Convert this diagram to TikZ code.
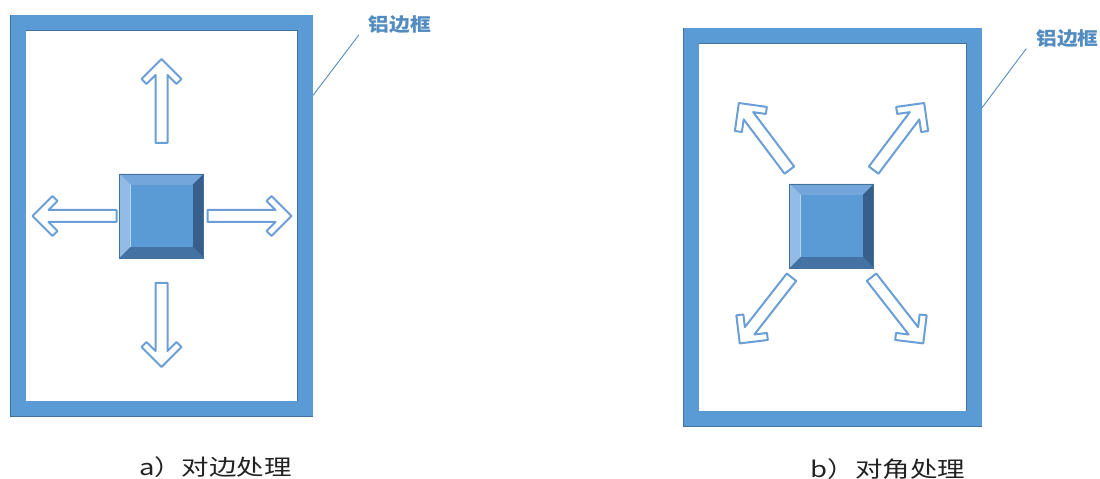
\documentclass[tikz,border=0pt]{standalone}
\usepackage{fontspec}
\usepackage{tikz}
\usetikzlibrary{calc}
\newfontfamily\cjkcap[FakeStretch=1.25]{Noto Sans CJK SC}
\newfontfamily\cjklbl[FakeStretch=1.12]{Noto Sans CJK SC}
\definecolor{frameblue}{HTML}{5B9BD5}
\definecolor{edgeblue}{HTML}{41719C}
\definecolor{toplight}{HTML}{74A5DB}
\definecolor{leftlight}{HTML}{92BBE5}
\definecolor{rightdark}{HTML}{365F8B}
\definecolor{bottomdark}{HTML}{4372A3}
\definecolor{arrowblue}{HTML}{6A9ED6}
\definecolor{captiongray}{HTML}{222222}
\tikzset{
    alframe/.style={draw=edgeblue, line width=.6pt, double=frameblue, double distance=15pt, outer sep=8pt},
    leader/.style={draw=frameblue!90!black, line width=.9pt},
    lbl/.style={font=\cjklbl\bfseries\fontsize{18.5}{20}\selectfont, text=frameblue!90!black, inner xsep=10pt, inner ysep=1pt},
    captiontext/.style={font=\cjkcap\fontsize{22}{24}\selectfont, text=captiongray},
    blockarrow/.pic={
        \draw[arrowblue, line width=2pt, fill=white, line join=round] (0,-6) -- (68,-6) -- (59,-15) -- (64,-20) -- (84,0)
            -- (64,20) -- (59,15) -- (68,6) -- (0,6) -- cycle;
    },
    bevel/.pic={
        \fill[toplight] (-42,42) -- (42,42) -- (31,31) -- (-31,31) -- cycle;
        \fill[leftlight] (-42,42) -- (-31,31) -- (-31,-31) -- (-42,-42) -- cycle;
        \fill[rightdark] (42,42) -- (42,-42) -- (31,-31) -- (31,31) -- cycle;
        \fill[bottomdark] (-42,-42) -- (-31,-31) -- (31,-31) -- (42,-42) -- cycle;
        \fill[frameblue] (-31,-31) rectangle (31,31);
        \draw[edgeblue, line width=.5pt] (-42,-42) rectangle (42,42);
    }
}
\begin{document}
\begin{tikzpicture}[x=1pt, y=1pt]
    \useasboundingbox (0,0) rectangle (1100,479);
    \node[alframe, minimum width=287pt, minimum height=386pt] (fra) at (161.5,263) {};
    \node[alframe, minimum width=283pt, minimum height=383pt] (frb) at (832.5,251.5) {};
    \coordinate (ca) at (161.5,263);
    \coordinate (cb) at (831.5,253);
    \pic at (ca) {bevel};
    \pic at (cb) {bevel};
    \foreach \ang/\dist in {90/73, -90/67, 180/45, 0/46}
        \pic[rotate=\ang] at ($(ca)+(\ang:\dist)$) {blockarrow};
    \foreach \ang/\dist in {127/70, 53/70, -128/65, -52/65}
        \pic[rotate=\ang] at ($(cb)+(\ang:\dist)$) {blockarrow};
    \node[lbl] (lbla) at (400,454) {铝边框};
    \node[lbl] (lblb) at (1067.5,440.5) {铝边框};
    \coordinate (ea) at ($(fra.north east)!0.2!(fra.south east)$);
    \coordinate (eb) at ($(frb.north east)!0.2!(frb.south east)$);
    \draw[leader] (ea) -- (lbla.south west);
    \draw[leader] (eb) -- (lblb.south west);
    \node[captiontext] (capa) at (215.5,11.5) {a）对边处理};
    \node[captiontext] (capb) at (888,10) {b）对角处理};
\end{tikzpicture}
\end{document}
